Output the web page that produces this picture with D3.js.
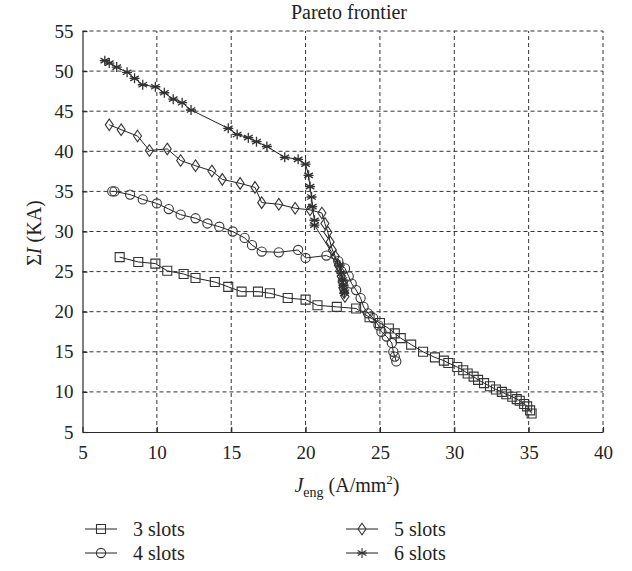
<!DOCTYPE html>
<html>
<head>
<meta charset="utf-8">
<script src="https://cdn.jsdelivr.net/npm/d3@7"></script>
<style>
  body { margin: 0; background: #fff; }
</style>
</head>
<body>
<svg id="chart" width="632" height="571"></svg>
<script>
/* global d3 */
// Pareto frontier
const xTicks = [5, 10, 15, 20, 25, 30, 35, 40]
const yTicks = [5, 10, 15, 20, 25, 30, 35, 40, 45, 50, 55]

const s3x = [7.5, 8.75, 9.9, 10.7, 11.8, 12.6, 13.9, 14.8, 15.7, 16.8, 17.6, 18.8, 20.0, 20.8, 22.1, 23.4, 24.3, 25.0, 25.6, 26.0, 26.4, 27.1, 27.9, 28.7, 29.3, 29.6, 30.2, 30.6, 30.9, 31.3, 31.6, 32.0, 32.4, 32.8, 33.2, 33.5, 33.9, 34.2, 34.4, 34.7, 34.9, 35.1, 35.2]
const s3y = [26.8, 26.2, 26.0, 25.1, 24.7, 24.2, 23.7, 23.1, 22.5, 22.5, 22.3, 21.7, 21.5, 20.8, 20.6, 20.4, 19.3, 18.6, 17.9, 17.3, 16.7, 15.9, 15.0, 14.3, 13.9, 13.6, 13.1, 12.7, 12.3, 11.9, 11.5, 11.1, 10.7, 10.3, 10.0, 9.7, 9.4, 9.1, 8.9, 8.5, 8.2, 7.7, 7.3]

const s4x = [7.0, 7.15, 8.2, 9.05, 10.0, 10.8, 11.6, 12.6, 13.4, 14.2, 15.1, 15.9, 16.4, 17.05, 18.2, 19.5, 20.0, 21.4, 22.2, 22.65, 22.9, 23.1, 23.4, 23.7, 23.9, 24.2, 24.55, 24.9, 25.1, 25.45, 25.8, 25.9, 26.0, 26.1]
const s4y = [35.0, 35.0, 34.6, 34.0, 33.5, 32.8, 32.1, 31.65, 31.0, 30.6, 30.0, 29.2, 28.3, 27.5, 27.4, 27.7, 26.7, 27.0, 26.3, 25.4, 24.4, 23.5, 22.7, 21.7, 20.6, 19.8, 19.2, 18.3, 17.5, 16.9, 16.1, 15.0, 14.4, 13.8]

const s5x = [6.8, 7.6, 8.7, 9.5, 10.7, 11.6, 12.6, 13.7, 14.4, 15.6, 16.6, 17.05, 18.2, 19.3, 20.3, 21.1, 21.3, 21.5, 21.65, 21.8, 22.0, 22.2, 22.3, 22.4, 22.45, 22.5, 22.6, 22.65]
const s5y = [43.3, 42.7, 41.9, 40.1, 40.3, 38.85, 38.2, 37.55, 36.5, 36.0, 35.5, 33.6, 33.4, 32.9, 32.7, 32.3, 31.0, 29.9, 28.7, 27.7, 26.9, 25.8, 25.1, 24.4, 23.7, 23.0, 22.4, 21.9]

const s6x = [6.5, 6.8, 7.3, 8.0, 8.5, 9.05, 9.9, 10.5, 11.1, 11.7, 12.3, 14.8, 15.4, 16.15, 16.7, 17.4, 18.6, 19.5, 20.0, 20.2, 20.3, 20.4, 20.45, 20.6, 20.6, 22.3, 22.4, 22.5, 22.55, 22.6, 22.6]
const s6y = [51.3, 51.0, 50.5, 49.85, 49.1, 48.3, 48.05, 47.3, 46.5, 46.06, 45.15, 42.86, 42.1, 41.7, 41.2, 40.6, 39.25, 39.0, 38.4, 37.0, 35.6, 34.3, 33.1, 31.4, 30.8, 25.8, 24.8, 23.95, 23.3, 22.7, 22.3]

const seriesNames = ['3 slots', '4 slots', '5 slots', '6 slots']
const seriesMarkers = ['square', 'circle', 'diamond', 'star']

const series = [
  { name: seriesNames[0], marker: seriesMarkers[0], xs: s3x, ys: s3y },
  { name: seriesNames[1], marker: seriesMarkers[1], xs: s4x, ys: s4y },
  { name: seriesNames[2], marker: seriesMarkers[2], xs: s5x, ys: s5y },
  { name: seriesNames[3], marker: seriesMarkers[3], xs: s6x, ys: s6y }
]

const serif = "'Liberation Serif', 'Times New Roman', serif"
const svg = d3.select('#chart')
const plotLeft = 82.5
const plotRight = 603
const plotTop = 31
const plotBottom = 432
const ink = '#2a2a2a'

const x = d3.scaleLinear().domain([5, 40]).range([plotLeft, plotRight])
const y = d3.scaleLinear().domain([5, 55]).range([plotBottom, plotTop])

// dashed grid (also makes the top and right border)
const grid = svg.append('g')
  .attr('stroke', '#333')
  .attr('stroke-width', 1)
  .attr('stroke-dasharray', '4,3')
grid.selectAll('.vg').data(xTicks.slice(1)).join('line')
  .attr('x1', d => x(d)).attr('x2', d => x(d))
  .attr('y1', plotBottom).attr('y2', plotTop)
grid.selectAll('.hg').data(yTicks.slice(1)).join('line')
  .attr('x1', plotLeft).attr('x2', plotRight)
  .attr('y1', d => y(d)).attr('y2', d => y(d))

// axes
const xAxis = d3.axisBottom(x).tickValues(xTicks).tickSizeInner(-5).tickSizeOuter(0).tickPadding(14)
const yAxis = d3.axisLeft(y).tickValues(yTicks).tickSizeInner(-5).tickSizeOuter(0).tickPadding(9)

const gx = svg.append('g').attr('transform', `translate(0,${plotBottom})`).call(xAxis)
const gy = svg.append('g').attr('transform', `translate(${plotLeft},0)`).call(yAxis)
;[gx, gy].forEach(g => {
  g.attr('font-family', serif).attr('font-size', 19)
  g.selectAll('path, line').attr('stroke', ink).attr('stroke-width', 1.2)
  g.selectAll('text').attr('fill', '#222')
})

// marker shapes
function markerPath (type) {
  if (type === 'square') return 'M-4.5,-4.5H4.5V4.5H-4.5Z'
  if (type === 'circle') return 'M4.6,0A4.6,4.6 0 1,1 -4.6,0A4.6,4.6 0 1,1 4.6,0Z'
  if (type === 'diamond') return 'M0,-5.8L4,0L0,5.8L-4,0Z'
  // asterisk
  return 'M0,-5V5M-4.3,-2.5L4.3,2.5M-4.3,2.5L4.3,-2.5M-5,0H5'
}

const line = d3.line().x(d => x(d[0])).y(d => y(d[1]))

series.forEach(s => {
  const pts = s.xs.map((v, i) => [v, s.ys[i]])
  const g = svg.append('g')
  g.append('path')
    .datum(pts)
    .attr('d', line)
    .attr('fill', 'none')
    .attr('stroke', '#222')
    .attr('stroke-width', 1)
  g.selectAll('path.m').data(pts).join('path')
    .attr('class', 'm')
    .attr('transform', d => `translate(${x(d[0])},${y(d[1])})`)
    .attr('d', markerPath(s.marker))
    .attr('fill', 'none')
    .attr('stroke', '#333')
    .attr('stroke-width', s.marker === 'star' ? 1.3 : 1.1)
})

// title
svg.append('text')
  .attr('x', 349).attr('y', 19)
  .attr('text-anchor', 'middle')
  .attr('font-family', serif)
  .attr('font-size', 20)
  .attr('fill', '#222')
  .text('Pareto frontier')

// x label: J_eng (A/mm^2)
const xl = svg.append('text')
  .attr('x', 347).attr('y', 492)
  .attr('text-anchor', 'middle')
  .attr('font-family', serif)
  .attr('font-size', 20)
  .attr('fill', '#222')
xl.append('tspan').style('font-style', 'italic').text('J')
xl.append('tspan').attr('dy', 5).attr('font-size', 14).text('eng')
xl.append('tspan').attr('dy', -5).text(' (A/mm')
xl.append('tspan').attr('dy', -8).attr('font-size', 13).text('2')
xl.append('tspan').attr('dy', 8).text(')')

// y label
const yl = svg.append('text')
  .attr('transform', 'translate(41,233) rotate(-90)')
  .attr('text-anchor', 'middle')
  .attr('font-family', serif)
  .attr('font-size', 20)
  .attr('fill', '#222')
yl.append('tspan').text('Σ')
yl.append('tspan').style('font-style', 'italic').text('I')
yl.append('tspan').text(' (KA)')

// legend
const legendPos = [[85, 529], [85, 553], [346, 529], [346, 553]]
series.forEach((s, i) => {
  const [lx, ly] = legendPos[i]
  const g = svg.append('g').attr('transform', `translate(${lx},${ly})`)
  g.append('line').attr('x1', 0).attr('x2', 32).attr('y1', 0).attr('y2', 0)
    .attr('stroke', '#222').attr('stroke-width', 1)
  g.append('path')
    .attr('transform', 'translate(16,0)')
    .attr('d', markerPath(s.marker))
    .attr('fill', 'none')
    .attr('stroke', '#333')
    .attr('stroke-width', 1.1)
  g.append('text')
    .attr('x', 48).attr('y', 0).attr('dy', '0.33em')
    .attr('font-family', serif)
    .attr('font-size', 20)
    .attr('fill', '#222')
    .text(s.name)
})
</script>
</body>
</html>
